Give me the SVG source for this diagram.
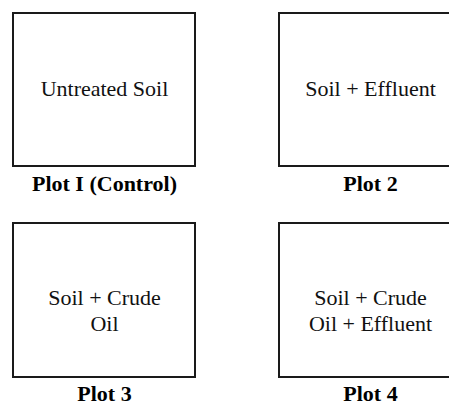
<svg xmlns="http://www.w3.org/2000/svg" width="449" height="406" viewBox="0 0 449 406">
<style>
.box{fill:#fff;stroke:#1a1a1a;stroke-width:2}
.t{font-family:'Liberation Serif','Times New Roman','DejaVu Serif',serif;font-size:22px;fill:#111;text-anchor:middle}
.lbl{font-family:'Liberation Serif','Times New Roman','DejaVu Serif',serif;font-size:22px;font-weight:bold;fill:#000;text-anchor:middle}
</style>
<rect width="449" height="406" fill="#fff"/>
<g id="plot1">
<rect class="box" x="13" y="13" width="182" height="153"/>
<text class="t" x="104.5" y="96">Untreated Soil</text>
<text class="lbl" x="104.5" y="191">Plot I (Control)</text>
</g>
<g id="plot2">
<rect class="box" x="279" y="13" width="182" height="153"/>
<text class="t" x="370.5" y="96">Soil + Effluent</text>
<text class="lbl" x="370.5" y="191">Plot 2</text>
</g>
<g id="plot3">
<rect class="box" x="13" y="223" width="182" height="154"/>
<text class="t" x="104.5" y="305">Soil + Crude</text>
<text class="t" x="104.5" y="331">Oil</text>
<text class="lbl" x="104.5" y="401">Plot 3</text>
</g>
<g id="plot4">
<rect class="box" x="279" y="223" width="182" height="154"/>
<text class="t" x="370.5" y="305">Soil + Crude</text>
<text class="t" x="370.5" y="331">Oil + Effluent</text>
<text class="lbl" x="370.5" y="401">Plot 4</text>
</g>
<g id="connectors"/>
</svg>
